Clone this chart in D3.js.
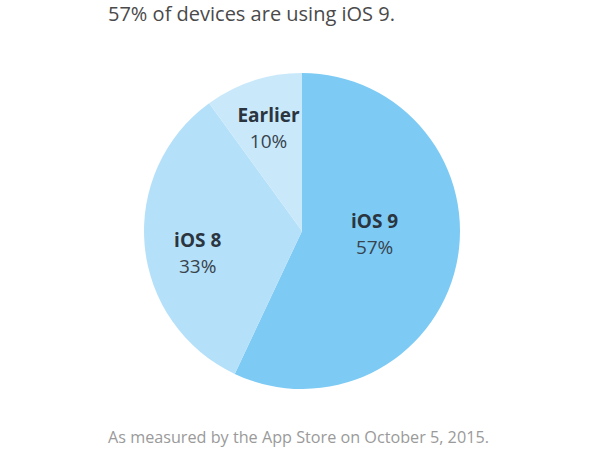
<!DOCTYPE html>
<html>
<head>
<meta charset="utf-8">
<script src="https://cdn.jsdelivr.net/npm/d3@7"></script>
<style>
  body { margin: 0; background: #fff; }
  text { font-family: "Open Sans", "Noto Sans", sans-serif; }
</style>
</head>
<body>
<div id="chart"></div>
<script>
// data
const versions = ["iOS 9", "iOS 8", "Earlier"];
const shares = [57, 33, 10];
const title = "57% of devices are using iOS 9.";
const footnote = "As measured by the App Store on October 5, 2015.";

const colours = ["#7dcbf5", "#b5e0f9", "#c9e9fb"];
// label placement: fraction of radius, angle nudge in degrees
const labelPos = { "iOS 9": [0.46, -10], "iOS 8": [0.675, -6.6], "Earlier": [0.685, 0] };

const width = 600, height = 450;
const cx = 302, cy = 231, R = 158;

const svg = d3.select("#chart").append("svg")
    .attr("width", width)
    .attr("height", height);

svg.append("text")
    .attr("x", 108).attr("y", 21)
    .attr("fill", "#4a4a4a")
    .style("font-size", "20px")
    .style("font-weight", 500)
    .text(title);

const data = versions.map((v, i) => ({ name: v, value: shares[i] }));
const pie = d3.pie().sort(null).value(d => d.value);
const arc = d3.arc().innerRadius(0).outerRadius(R);
const colour = d3.scaleOrdinal().domain(versions).range(colours);

const g = svg.append("g").attr("transform", `translate(${cx}, ${cy})`);

const arcs = pie(data);

g.selectAll("path")
  .data(arcs)
  .enter()
  .append("path")
    .attr("d", arc)
    .attr("fill", d => colour(d.data.name));

// labels
const lab = g.selectAll(".lab")
  .data(arcs)
  .enter()
  .append("g")
    .attr("class", "lab")
    .attr("transform", d => {
        const p = labelPos[d.data.name];
        const a = (d.startAngle + d.endAngle) / 2 + p[1] * Math.PI / 180;
        const r = p[0] * R;
        return `translate(${r * Math.sin(a)}, ${-r * Math.cos(a)})`;
    });

lab.append("text")
    .attr("text-anchor", "middle")
    .attr("y", -6)
    .attr("fill", "#2a3540")
    .style("font-size", "19px")
    .style("font-weight", 700)
    .text(d => d.data.name);

lab.append("text")
    .attr("text-anchor", "middle")
    .attr("y", 20)
    .attr("fill", "#38434d")
    .style("font-size", "19px")
    .text(d => d.data.value + "%");

svg.append("text")
    .attr("x", 108).attr("y", 443)
    .attr("fill", "#9a9a9a")
    .style("font-size", "16.2px")
    .text(footnote);
</script>
</body>
</html>
